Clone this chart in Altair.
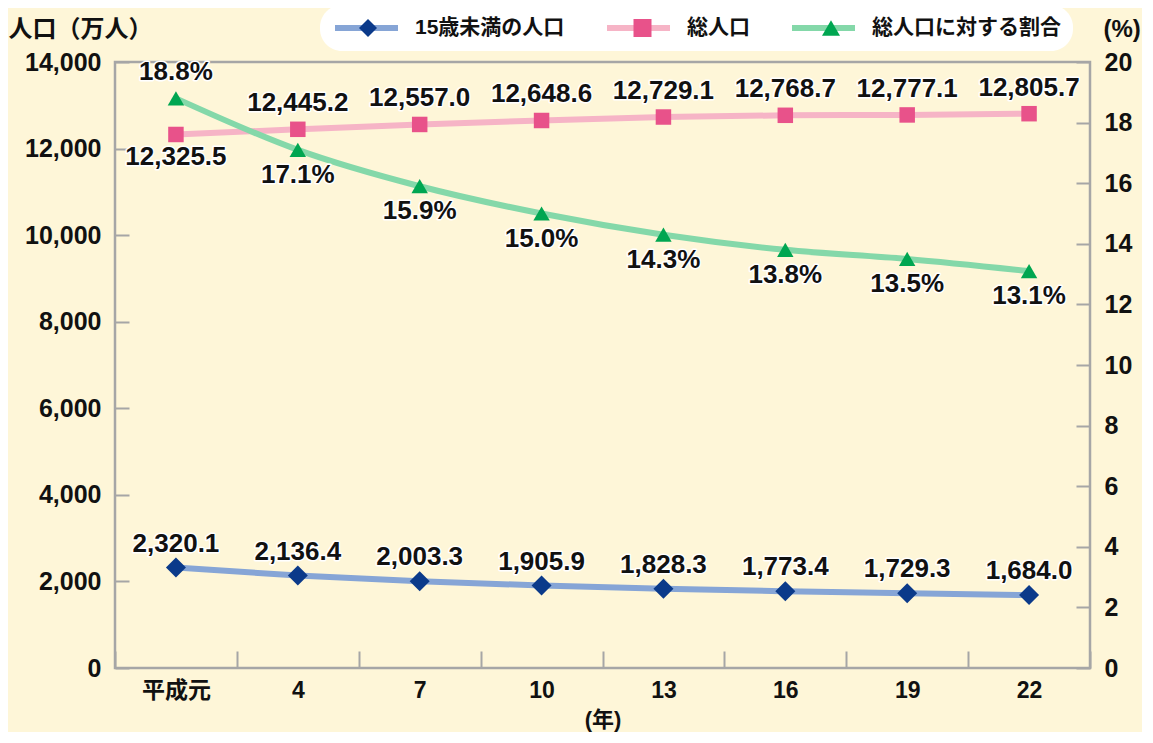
import altair as alt
import pandas as pd

years = ["平成元", "4", "7", "10", "13", "16", "19", "22"]
child = [2320.1, 2136.4, 2003.3, 1905.9, 1828.3, 1773.4, 1729.3, 1684.0]
total = [12325.5, 12445.2, 12557.0, 12648.6, 12729.1, 12768.7, 12777.1, 12805.7]
ratio = [18.8, 17.1, 15.9, 15.0, 14.3, 13.8, 13.5, 13.1]
series_names = ["15歳未満の人口", "総人口", "総人口に対する割合"]
left_ticks = [0, 2000, 4000, 6000, 8000, 10000, 12000, 14000]
right_ticks = [0, 2, 4, 6, 8, 10, 12, 14, 16, 18, 20]

line_colors = ["#86a5d6", "#f6b4c6", "#84d8a9"]
marker_colors = ["#0b3a8a", "#e8528a", "#00a651"]
shapes = ["diamond", "square", "triangle-up"]
marker_sizes = [400, 240, 270]

FONT = "Liberation Sans, Noto Sans CJK JP"
BG = "#FEF6D8"
GRAY = "#a6a6a6"

marker_names = [s + " " for s in series_names]  # separate legend domain for the markers

rows = []
for i, yv in enumerate(years):
    rows.append(dict(year=yv, series=series_names[0], marker=marker_names[0],
                     value=child[i], label=f"{child[i]:,.1f}"))
    rows.append(dict(year=yv, series=series_names[1], marker=marker_names[1],
                     value=total[i], label=f"{total[i]:,.1f}"))
left_df = pd.DataFrame(rows)
right_df = pd.DataFrame(dict(year=years, series=series_names[2], marker=marker_names[2],
                             value=ratio, label=[f"{r:.1f}%" for r in ratio]))

x_enc = alt.X(
    "year:N", sort=years,
    scale=alt.Scale(type="band", paddingInner=0, paddingOuter=0),
    axis=alt.Axis(title="(年)", tickBand="extent", offset=-17, tickSize=17, domain=False,
                  labelAngle=0, labelPadding=11, tickColor=GRAY, tickWidth=2,
                  labelFont=FONT, labelFontSize=23, labelFontWeight="bold", labelColor="#111",
                  titleFont=FONT, titleFontSize=22, titleFontWeight="bold", titleColor="#111",
                  titleY=68, titleBaseline="middle"),
)

LEG_X = 205
LEG_Y = -57
LINE_W = 63
STROKE = 6
MARK_W = 18
LINE_OFF = LINE_W + STROKE          # symbol column width used by the line legend
SHIFT = (LINE_OFF - MARK_W) / 2
LAB_OFF = 14
COL_PAD = 39
line_legend = alt.Legend(
    title=None, orient="none", legendX=LEG_X, legendY=LEG_Y, direction="horizontal",
    symbolType="stroke", symbolStrokeWidth=STROKE, symbolSize=LINE_W * LINE_W, clipHeight=22,
    labelFont=FONT, labelFontSize=21, labelFontWeight="bold", labelColor="#111",
    labelLimit=400, labelOffset=LAB_OFF, columnPadding=COL_PAD, padding=12,
    fillColor="white", cornerRadius=22,
)
marker_legend = alt.Legend(
    title=None, orient="none", legendX=LEG_X + SHIFT, legendY=LEG_Y, direction="horizontal",
    symbolSize=MARK_W * MARK_W, symbolStrokeWidth=0, symbolOpacity=1, clipHeight=22,
    labelFont=FONT, labelFontSize=21, labelFontWeight="bold", labelOpacity=0,
    labelExpr="trim(datum.label)", labelLimit=400,
    labelOffset=LAB_OFF + SHIFT, columnPadding=COL_PAD + SHIFT, padding=12,
)

color_enc = alt.Color("series:N", scale=alt.Scale(domain=series_names, range=line_colors),
                      legend=line_legend)
fill_enc = alt.Fill("marker:N", scale=alt.Scale(domain=marker_names, range=marker_colors),
                    legend=marker_legend)
shape_enc = alt.Shape("marker:N", scale=alt.Scale(domain=marker_names, range=shapes),
                      legend=marker_legend)


def label_layers(base, y_enc, flt, dy):
    b = base.transform_filter(flt) if flt is not None else base
    halo = b.mark_text(font=FONT, fontSize=26, fontWeight="bold", dy=dy, stroke="white",
                       strokeWidth=3, fill="white", strokeJoin="round").encode(
        x=x_enc, y=y_enc, text="label:N")
    txt = b.mark_text(font=FONT, fontSize=26, fontWeight="bold", dy=dy, fill="#111").encode(
        x=x_enc, y=y_enc, text="label:N")
    return [halo, txt]


y_left = alt.Y(
    "value:Q", scale=alt.Scale(domain=[0, 14000], nice=False, zero=True),
    axis=alt.Axis(values=left_ticks, format=",.0f", offset=-14, tickSize=14, domain=False,
                  grid=False, labelPadding=14, tickColor=GRAY, tickWidth=2,
                  labelFont=FONT, labelFontSize=25, labelFontWeight="bold", labelColor="#111",
                  title="人口（万人）", titleAngle=0, titleAlign="left", titleBaseline="middle",
                  titleX=-121, titleY=-33, titleFont=FONT, titleFontSize=24,
                  titleFontWeight="bold", titleColor="#111"),
)
y_right = alt.Y(
    "value:Q", scale=alt.Scale(domain=[0, 20], nice=False, zero=True),
    axis=alt.Axis(values=right_ticks, format=".0f", orient="right", offset=-14, tickSize=14,
                  domain=False, grid=False, labelPadding=14, tickColor=GRAY, tickWidth=2,
                  labelFont=FONT, labelFontSize=25, labelFontWeight="bold", labelColor="#111",
                  title="(%)", titleAngle=0, titleAlign="left", titleBaseline="middle",
                  titleX=27, titleY=-33, titleFont=FONT, titleFontSize=24,
                  titleFontWeight="bold", titleColor="#111"),
)

first = "datum.year === '平成元'"
not_first = "datum.year !== '平成元'"
child_f = f"datum.series === '{series_names[0]}'"
total_f = f"datum.series === '{series_names[1]}'"

lb = alt.Chart(left_df)
left_lines = lb.mark_line(interpolate="monotone", strokeWidth=6).encode(
    x=x_enc, y=y_left, color=color_enc, detail="series:N")
child_points = lb.transform_filter(child_f).mark_point(
    filled=True, opacity=1, size=marker_sizes[0]).encode(
    x=x_enc, y=y_left, fill=fill_enc, shape=shape_enc)
total_points = lb.transform_filter(total_f).mark_point(
    filled=True, opacity=1, size=marker_sizes[1]).encode(
    x=x_enc, y=y_left, fill=fill_enc, shape=shape_enc)

left_labels = []
left_labels += label_layers(lb, y_left, child_f, -24)
left_labels += label_layers(lb, y_left, f"{total_f} && {first}", 23)
left_labels += label_layers(lb, y_left, f"{total_f} && {not_first}", -26)

rb = alt.Chart(right_df)
right_line = rb.mark_line(interpolate="monotone", strokeWidth=6).encode(
    x=x_enc, y=y_right, color=color_enc)
right_points = rb.mark_point(filled=True, opacity=1, size=marker_sizes[2]).encode(
    x=x_enc, y=y_right, fill=fill_enc, shape=shape_enc)
right_labels = []
right_labels += label_layers(rb, y_right, first, -26)
right_labels += label_layers(rb, y_right, not_first, 25)

left_layer = alt.layer(left_lines, child_points, total_points, *left_labels)
right_layer = alt.layer(right_line, right_points, *right_labels)

chart = alt.layer(left_layer, right_layer).resolve_scale(y="independent").properties(
    width=975, height=606, autosize="none",
    padding={"left": 107, "top": 54, "right": 52, "bottom": 64},
    background=BG,
).configure_view(stroke=GRAY, strokeWidth=2.5)

chart.save("out.html", embed_options={"renderer": "svg", "actions": False})
